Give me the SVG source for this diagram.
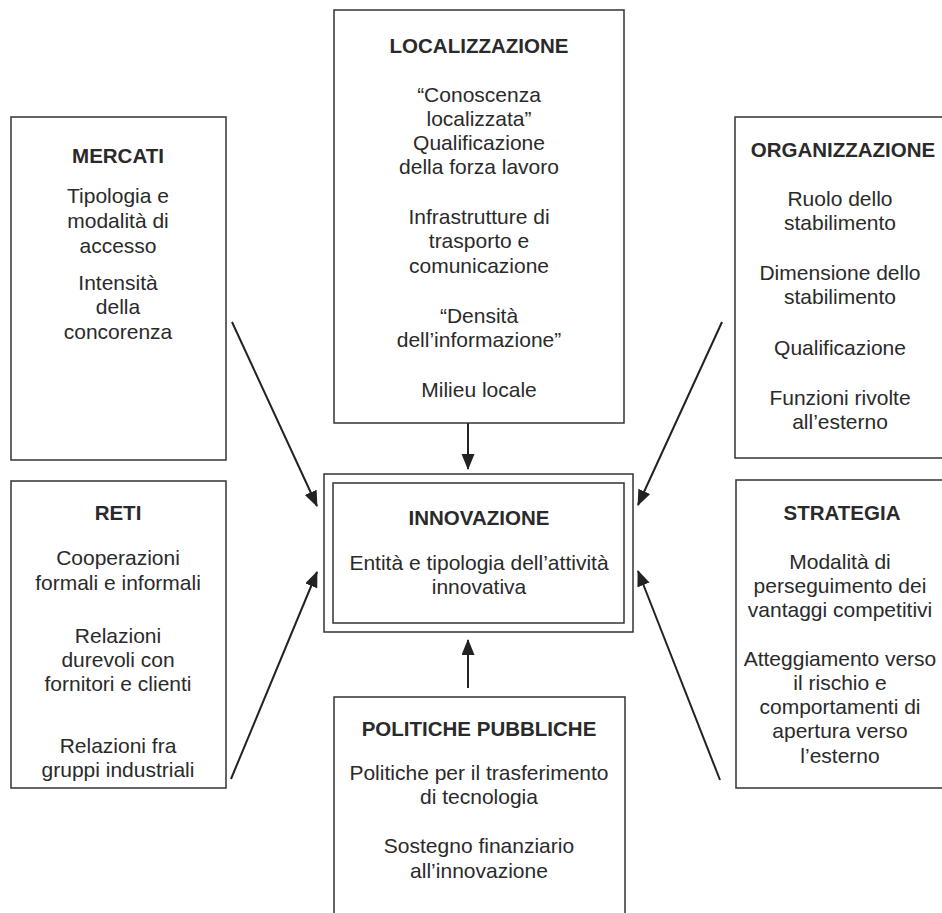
<svg xmlns="http://www.w3.org/2000/svg" width="942" height="913" viewBox="0 0 942 913">
<defs>
<style>
.box{fill:#fff;stroke:#333;stroke-width:1.5}
text{font-family:"Liberation Sans",Arial,sans-serif;font-size:21px;fill:#2a2a2a;text-anchor:middle}
.t{font-weight:bold;font-size:20.5px}
.c{stroke:#222;stroke-width:2;fill:none;marker-end:url(#ah)}
</style>
<marker id="ah" markerUnits="userSpaceOnUse" markerWidth="16" markerHeight="14" refX="15" refY="6.5" orient="auto">
<path d="M0,0 L16,6.5 L0,13 z" fill="#222"/>
</marker>
</defs>
<rect width="942" height="913" fill="#fff"/>
<g id="connectors">
<line class="c" x1="468" y1="423" x2="468" y2="469"/>
<line class="c" x1="468" y1="688" x2="468" y2="640"/>
<line class="c" x1="232" y1="322" x2="317" y2="506"/>
<line class="c" x1="231" y1="779" x2="317" y2="572"/>
<line class="c" x1="722" y1="322" x2="638" y2="505"/>
<line class="c" x1="720" y1="780" x2="638" y2="571"/>
</g>
<g id="mercati">
<rect class="box" x="11" y="117" width="215" height="343"/>
<text class="t" x="118" y="163">MERCATI</text>
<text x="118" y="203">Tipologia e</text>
<text x="118" y="228">modalità di</text>
<text x="118" y="253">accesso</text>
<text x="118" y="290">Intensità</text>
<text x="118" y="314">della</text>
<text x="118" y="339">concorenza</text>
</g>
<g id="localizzazione">
<rect class="box" x="334" y="10" width="290" height="413"/>
<text class="t" x="479" y="53">LOCALIZZAZIONE</text>
<text x="479" y="102">“Conoscenza</text>
<text x="479" y="126">localizzata”</text>
<text x="479" y="150">Qualificazione</text>
<text x="479" y="174">della forza lavoro</text>
<text x="479" y="224">Infrastrutture di</text>
<text x="479" y="248">trasporto e</text>
<text x="479" y="273">comunicazione</text>
<text x="479" y="323">“Densità</text>
<text x="479" y="347">dell’informazione”</text>
<text x="479" y="397">Milieu locale</text>
</g>
<g id="organizzazione">
<rect class="box" x="735" y="117" width="215" height="341"/>
<text class="t" x="843" y="157">ORGANIZZAZIONE</text>
<text x="840" y="206">Ruolo dello</text>
<text x="840" y="230">stabilimento</text>
<text x="840" y="280">Dimensione dello</text>
<text x="840" y="304">stabilimento</text>
<text x="840" y="355">Qualificazione</text>
<text x="840" y="405">Funzioni rivolte</text>
<text x="840" y="429">all’esterno</text>
</g>
<g id="innovazione">
<rect class="box" x="324" y="474" width="309" height="158"/>
<rect class="box" x="333" y="483" width="291" height="140"/>
<text class="t" x="479" y="525">INNOVAZIONE</text>
<text x="479" y="570">Entità e tipologia dell’attività</text>
<text x="479" y="594">innovativa</text>
</g>
<g id="reti">
<rect class="box" x="11" y="481" width="215" height="307"/>
<text class="t" x="118" y="520">RETI</text>
<text x="118" y="565">Cooperazioni</text>
<text x="118" y="590">formali e informali</text>
<text x="118" y="643">Relazioni</text>
<text x="118" y="667">durevoli con</text>
<text x="118" y="691">fornitori e clienti</text>
<text x="118" y="753">Relazioni fra</text>
<text x="118" y="777">gruppi industriali</text>
</g>
<g id="strategia">
<rect class="box" x="736" y="480" width="214" height="308"/>
<text class="t" x="842" y="520">STRATEGIA</text>
<text x="840" y="569">Modalità di</text>
<text x="840" y="593">perseguimento dei</text>
<text x="840" y="617">vantaggi competitivi</text>
<text x="840" y="666">Atteggiamento verso</text>
<text x="840" y="690">il rischio e</text>
<text x="840" y="714">comportamenti di</text>
<text x="840" y="738">apertura verso</text>
<text x="840" y="763">l’esterno</text>
</g>
<g id="politiche">
<path class="box" d="M334,913 V697 H625 V913"/>
<text class="t" x="479" y="736">POLITICHE PUBBLICHE</text>
<text x="479" y="780">Politiche per il trasferimento</text>
<text x="479" y="804">di tecnologia</text>
<text x="479" y="853">Sostegno finanziario</text>
<text x="479" y="878">all’innovazione</text>
</g>
</svg>
